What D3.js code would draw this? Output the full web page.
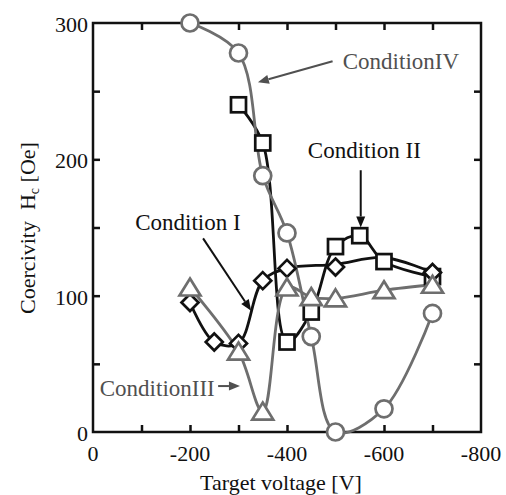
<!DOCTYPE html>
<html><head><meta charset="utf-8">
<script src="https://cdn.jsdelivr.net/npm/d3@7"></script>
<style>body{margin:0;background:#fff}svg{display:block}</style>
</head><body>
<svg id="chart" width="506" height="495"></svg>
<script>
// ---- data ----
const xLabelTicks = [0, -200, -400, -600, -800];
const xMinorTicks = [-100, -200, -300, -400, -500, -600, -700];
const yLabelTicks = [0, 100, 200, 300];
const yMinorTicks = [50, 100, 150, 200, 250];

const cond1V  = [-200, -250, -300, -350, -400, -500, -700];
const cond1Hc = [95, 66, 65, 111, 120, 121, 117];
const cond1LineV  = [-200, -250, -300, -350, -400, -500, -600, -700];
const cond1LineHc = [95, 66, 65, 111, 120, 123, 128, 117];

const cond2V  = [-300, -350, -400, -450, -500, -550, -600, -700];
const cond2Hc = [240, 212, 66, 88, 136, 144, 125, 114];

const cond3V  = [-200, -300, -350, -400, -450, -500, -600, -700];
const cond3Hc = [106, 59, 15, 106, 99, 98, 104, 108];

const cond4V  = [-200, -300, -350, -400, -450, -500, -600, -700];
const cond4Hc = [300, 278, 188, 146, 70, 0, 17, 87];

const annoLabels = ["ConditionIV", "Condition II", "Condition I", "ConditionIII"];

// ---- setup ----
const svg = d3.select("#chart");
const x = d3.scaleLinear().domain([0, -800]).range([93, 481]);
const y = d3.scaleLinear().domain([0, 300]).range([432, 23]);
const serif = "'Liberation Serif', 'Times New Roman', serif";
const GRAY = "#6e6e6e", GRAYTXT = "#505050", BLACK = "#111";

// ---- axes frame ----
const [x0, x1] = x.range();
const [yb, yt] = y.range();
svg.append("rect").attr("x", x0).attr("y", yt).attr("width", x1 - x0).attr("height", yb - yt)
  .attr("fill", "none").attr("stroke", BLACK).attr("stroke-width", 2.5);

function styleAxis(g) {
  g.select(".domain").remove();
  g.selectAll("line").attr("stroke", BLACK).attr("stroke-width", 2.5);
}
svg.append("g").attr("transform", `translate(0,${yb})`)
  .call(d3.axisBottom(x).tickValues(xMinorTicks).tickSize(-7).tickFormat("")).call(styleAxis);
svg.append("g").attr("transform", `translate(0,${yt})`)
  .call(d3.axisTop(x).tickValues(xMinorTicks).tickSize(-7).tickFormat("")).call(styleAxis);
svg.append("g").attr("transform", `translate(${x0},0)`)
  .call(d3.axisLeft(y).tickValues(yMinorTicks).tickSize(-7).tickFormat("")).call(styleAxis);
svg.append("g").attr("transform", `translate(${x1},0)`)
  .call(d3.axisRight(y).tickValues(yMinorTicks).tickSize(-7).tickFormat("")).call(styleAxis);

// tick labels
const lab = svg.append("g").attr("font-family", serif).attr("font-size", 22).attr("fill", BLACK);
lab.selectAll(".xl").data(xLabelTicks).join("text").attr("class", "xl")
  .attr("x", d => x(d)).attr("y", 461).attr("text-anchor", "middle").text(d => String(d));
lab.selectAll(".yl").data(yLabelTicks).join("text").attr("class", "yl")
  .attr("x", 88).attr("y", d => y(d) + 9).attr("text-anchor", "end").text(d => d);

// axis titles
svg.append("text").attr("font-family", serif).attr("font-size", 22).attr("fill", BLACK)
  .attr("x", 281).attr("y", 490).attr("text-anchor", "middle").text("Target voltage [V]");
const ytl = svg.append("text").attr("font-family", serif).attr("font-size", 22).attr("fill", BLACK)
  .attr("transform", "translate(35,228) rotate(-90)").attr("text-anchor", "middle")
  .attr("xml:space", "preserve").style("white-space", "pre");
ytl.append("tspan").text("Coercivity  H");
ytl.append("tspan").attr("font-size", 14).attr("dy", 4).text("c");
ytl.append("tspan").attr("dy", -4).text(" [Oe]");

// ---- lines ----
const line = d3.line().x(d => x(d[0])).y(d => y(d[1])).curve(d3.curveCatmullRom.alpha(0.5));
const zip = (a, b) => a.map((v, i) => [v, b[i]]);
const lines = svg.append("g").attr("fill", "none").attr("stroke-width", 2.8);
lines.append("path").attr("d", line(zip(cond1LineV, cond1LineHc))).attr("stroke", BLACK);
lines.append("path").attr("d", line(zip(cond2V, cond2Hc))).attr("stroke", BLACK);
lines.append("path").attr("d", line(zip(cond3V, cond3Hc))).attr("stroke", GRAY);
lines.append("path").attr("d", line(zip(cond4V, cond4Hc))).attr("stroke", GRAY);

// ---- markers ----
const mk = svg.append("g").attr("fill", "#fff").attr("stroke-width", 2.7);
mk.selectAll(".sq").data(zip(cond2V, cond2Hc)).join("rect").attr("class", "sq")
  .attr("x", d => x(d[0]) - 7.5).attr("y", d => y(d[1]) - 7.5).attr("width", 15).attr("height", 15)
  .attr("stroke", BLACK);
mk.selectAll(".di").data(zip(cond1V, cond1Hc)).join("path").attr("class", "di")
  .attr("d", d => { const cx = x(d[0]), cy = y(d[1]), r = 8.5;
    return `M${cx},${cy - r}L${cx + r},${cy}L${cx},${cy + r}L${cx - r},${cy}Z`; })
  .attr("stroke", BLACK);
mk.selectAll(".ci").data(zip(cond4V, cond4Hc)).join("circle").attr("class", "ci")
  .attr("cx", d => x(d[0])).attr("cy", d => y(d[1])).attr("r", 8.5).attr("stroke", GRAY);
mk.selectAll(".tr").data(zip(cond3V, cond3Hc)).join("path").attr("class", "tr")
  .attr("d", d => { const cx = x(d[0]), cy = y(d[1]);
    return `M${cx},${cy - 9}L${cx + 10.5},${cy + 8}L${cx - 10.5},${cy + 8}Z`; })
  .attr("stroke", GRAY);

// ---- annotations (data coordinates) ----
const annos = [
  {text: annoLabels[0], tx: -515, ty: 266, color: GRAYTXT, from: [-494, 272], to: [-340, 256.5]},
  {text: annoLabels[1], tx: -443, ty: 201, color: BLACK, from: [-552, 192], to: [-552, 150]},
  {text: annoLabels[2], tx: -87, ty: 148, color: BLACK, from: [-227, 142], to: [-326, 89]},
  {text: annoLabels[3], tx: -14, ty: 26.4, color: GRAYTXT, from: [-258, 33.7], to: [-303, 33.7]}
];
const an = svg.append("g");
annos.forEach(a => {
  an.append("text").attr("font-family", serif).attr("font-size", 23).attr("fill", a.color)
    .attr("x", x(a.tx)).attr("y", y(a.ty)).text(a.text);
  const fx = x(a.from[0]), fy = y(a.from[1]), tx = x(a.to[0]), ty = y(a.to[1]);
  const ang = Math.atan2(ty - fy, tx - fx), L = 11, Wd = 4.5;
  const bx = tx - L * Math.cos(ang), by = ty - L * Math.sin(ang);
  an.append("line").attr("x1", fx).attr("y1", fy).attr("x2", bx).attr("y2", by)
    .attr("stroke", a.color).attr("stroke-width", 2);
  const px = -Math.sin(ang) * Wd, py = Math.cos(ang) * Wd;
  an.append("path").attr("d", `M${tx},${ty}L${bx + px},${by + py}L${bx - px},${by - py}Z`)
    .attr("fill", a.color);
});
</script>
</body></html>
